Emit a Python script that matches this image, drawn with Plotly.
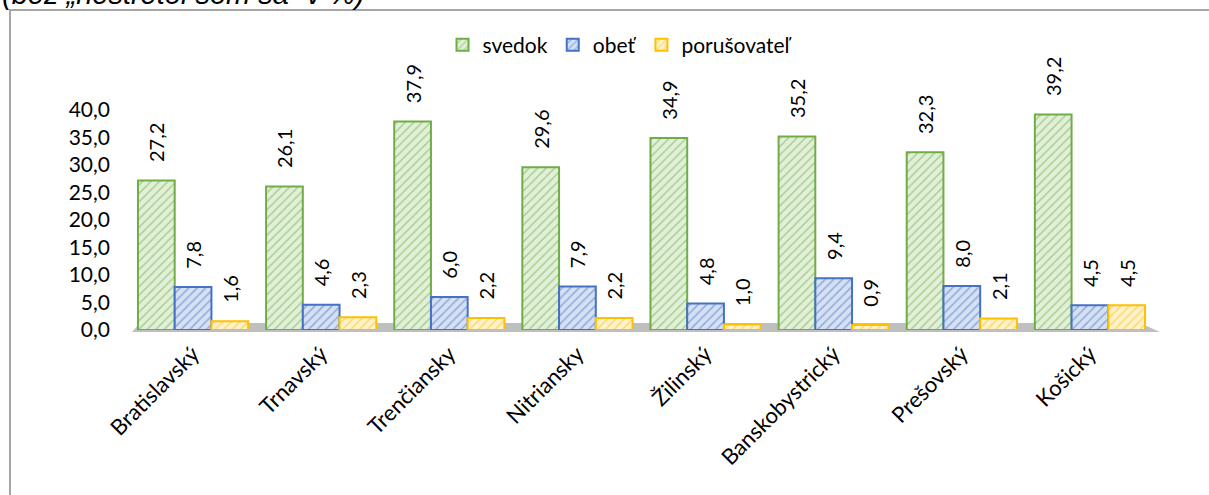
import plotly.graph_objects as go

categories = ["Bratislavský", "Trnavský", "Trenčiansky", "Nitriansky", "Žilinský",
              "Banskobystrický", "Prešovský", "Košický"]
svedok = [27.2, 26.1, 37.9, 29.6, 34.9, 35.2, 32.3, 39.2]
obet = [7.8, 4.6, 6.0, 7.9, 4.8, 9.4, 8.0, 4.5]
porusovatel = [1.6, 2.3, 2.2, 2.2, 1.0, 0.9, 2.1, 4.5]
series_names = ["svedok", "obeť", "porušovateľ"]
y_ticks = [0, 5, 10, 15, 20, 25, 30, 35, 40]

styles = [
    dict(line="#70AD47", fg="#70AD47", bg="#E2F0D9"),
    dict(line="#4472C4", fg="#4472C4", bg="#D6E0F3"),
    dict(line="#FFC000", fg="#FFC000", bg="#FFF2CC"),
]

FONT = "Lato"
fig = go.Figure()
for name, vals, st in zip(series_names, [svedok, obet, porusovatel], styles):
    fig.add_trace(go.Bar(
        name=name, x=categories, y=vals,
        marker=dict(color=st["bg"],
                    line=dict(color=st["line"], width=2),
                    pattern=dict(shape="/", fgcolor=st["fg"], bgcolor=st["bg"],
                                 size=6, solidity=0.25, fillmode="overlay")),
        texttemplate="\u00a0\u00a0\u00a0%{y:.1f}", textposition="outside", textangle=-90,
        textfont=dict(family=FONT, size=20, color="#000000"),
        constraintext="none",
        cliponaxis=False,
    ))

x0 = 129
W = 1025
def px(x):
    return (x - x0) / W
def py(y):
    return (330 - y) / 220

fig.update_layout(
    width=1209, height=495,
    margin=dict(l=x0, r=1209 - x0 - W, t=110, b=165),
    paper_bgcolor="white", plot_bgcolor="white",
    separators=", ",
    barmode="group", bargap=0.14, bargroupgap=0.0,
    font=dict(family=FONT, size=20, color="#000000"),
    showlegend=True,
    legend=dict(orientation="h", x=px(620), xanchor="center", y=py(45), yanchor="middle",
                font=dict(family=FONT, size=21), itemwidth=30, traceorder="normal",
                bgcolor="rgba(0,0,0,0)"),
    xaxis=dict(tickangle=-45, showline=False, showgrid=False, ticks="",
               tickfont=dict(family=FONT, size=22), ticklabelstandoff=6),
    yaxis=dict(range=[0, 40], tickvals=y_ticks, tickformat=".1f", showgrid=False,
               zeroline=False, showline=False, ticks="", ticklabelstandoff=18,
               tickfont=dict(family=FONT, size=21)),
    shapes=[
        dict(type="rect", xref="paper", yref="paper", x0=px(10), x1=px(1240),
             y0=py(540), y1=py(10), line=dict(color="#A6A6A6", width=2),
             fillcolor="rgba(0,0,0,0)", layer="below"),
        dict(type="path", xref="paper", yref="paper",
             path=f"M {px(140)} {py(323)} L {px(1140)} {py(323)} L {px(1160)} {py(332)} "
                  f"L {px(132)} {py(332)} Z",
             fillcolor="#BFBFBF", line=dict(width=0), layer="below"),
    ],
    annotations=[
        dict(xref="paper", yref="paper", x=px(0), y=py(12), xanchor="left", yanchor="bottom",
             text="<i>(bez „nestretol som sa“ v %)</i>", showarrow=False,
             font=dict(family="Liberation Sans", size=29, color="#000000")),
    ],
)

fig.write_html("out.html", config={"displayModeBar": False},
               post_script="document.body.style.margin='0';document.body.style.overflow='hidden';")
